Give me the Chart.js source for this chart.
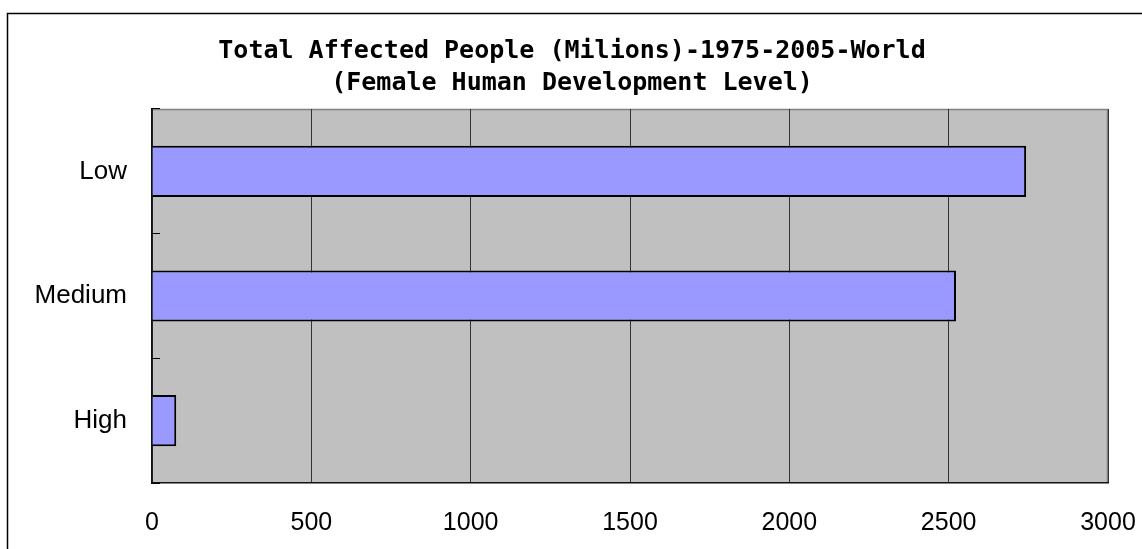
<!DOCTYPE html>
<html>
<head>
<meta charset="utf-8">
<script src="https://cdn.jsdelivr.net/npm/chart.js@4"></script>
<style>
  html, body { margin: 0; padding: 0; background: #fff; }
  #wrap { width: 1142px; height: 549px; position: relative; }
</style>
</head>
<body>
<div id="wrap"><canvas id="affectedChart"></canvas></div>
<script>
const categories = ["Low", "Medium", "High"];
const affected = [2743, 2523, 76];
const xTicks = [0, 500, 1000, 1500, 2000, 2500, 3000];
const titleLines = ["Total Affected People (Milions)-1975-2005-World", "(Female Human Development Level)"];

// gray plot area + outer frame, like the old spreadsheet chart
const plotBackground = {
    id: 'plotBackground',
    beforeDraw(chart) {
        const c = chart.ctx, a = chart.chartArea;
        c.save();
        c.fillStyle = '#fff';
        c.fillRect(0, 0, chart.width, chart.height);
        c.strokeStyle = '#000';
        c.lineWidth = 1.5;
        c.strokeRect(7.5, 13.5, chart.width + 20, chart.height + 20);
        c.fillStyle = '#C0C0C0';
        c.fillRect(a.left, a.top, a.right - a.left, a.bottom - a.top);
        c.strokeStyle = '#808080';
        c.lineWidth = 1.5;
        c.beginPath();
        c.moveTo(a.left, a.top + 0.5);
        c.lineTo(a.right - 0.5, a.top + 0.5);
        c.lineTo(a.right - 0.5, a.bottom);
        c.stroke();
        c.restore();
    }
};

new Chart(document.getElementById('affectedChart'), {
    type: 'bar',
    data: {
        labels: categories,
        datasets: [{
            data: affected,
            backgroundColor: '#9999FF',
            borderColor: '#000',
            borderWidth: 2,
            barPercentage: 0.41,
            categoryPercentage: 1
        }]
    },
    options: {
        indexAxis: 'y',
        responsive: true,
        maintainAspectRatio: false,
        animation: false,
        layout: { padding: { left: 36, right: 34, top: 0, bottom: 0 } },
        plugins: {
            legend: { display: false },
            tooltip: { enabled: false },
            title: {
                display: true,
                text: titleLines,
                color: '#000',
                font: { family: 'DejaVu Sans Mono', size: 25, weight: 'bold', lineHeight: 1.3 },
                padding: { top: 35, bottom: 9 }
            }
        },
        scales: {
            x: {
                min: 0,
                max: 3000,
                afterBuildTicks: function (scale) {
                    scale.ticks = xTicks.map(v => ({ value: v }));
                },
                afterFit: function (scale) {
                    scale.height = 66;
                    scale.paddingLeft = 0;
                    scale.paddingRight = 0;
                },
                grid: { color: '#333', lineWidth: 1, drawTicks: false },
                border: { color: '#111', width: 1.5 },
                ticks: {
                    color: '#000',
                    padding: 25,
                    maxRotation: 0,
                    font: { family: 'Liberation Sans', size: 25 },
                    callback: function (value) { return String(value); }
                }
            },
            y: {
                afterFit: function (scale) { scale.width = 116; },
                grid: { display: true, drawOnChartArea: false, offset: true, tickLength: -8, color: '#000', lineWidth: 1 },
                border: { color: '#111', width: 1.5 },
                ticks: {
                    color: '#000',
                    padding: 33,
                    font: { family: 'Liberation Sans', size: 26 }
                }
            }
        }
    },
    plugins: [plotBackground]
});
</script>
</body>
</html>
